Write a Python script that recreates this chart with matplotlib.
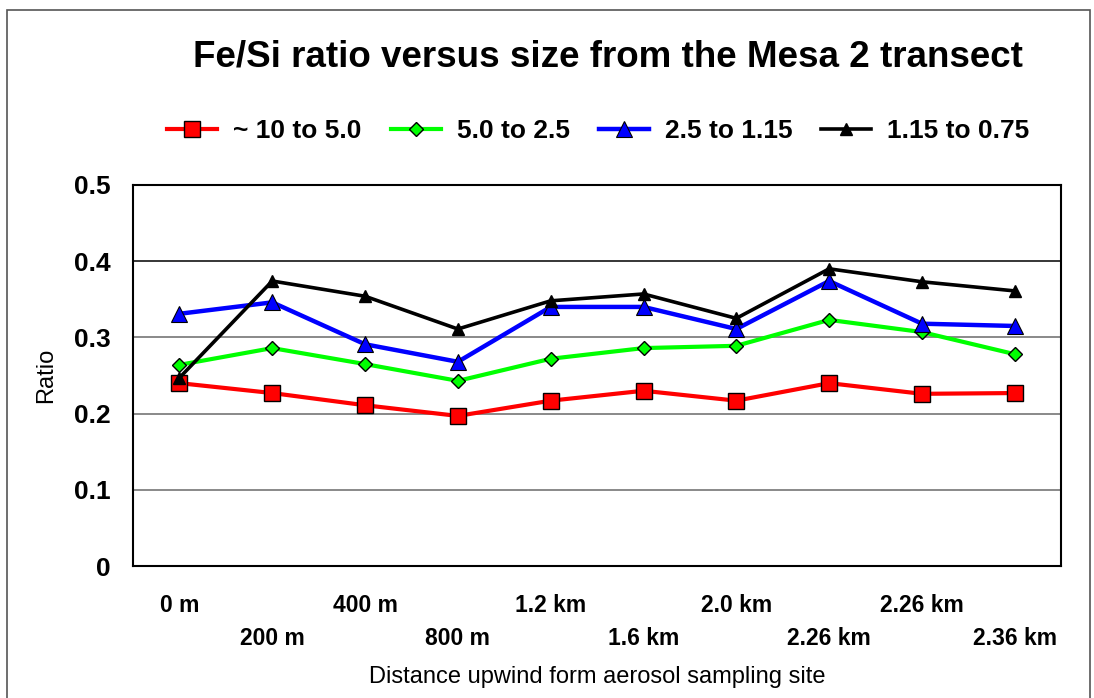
import matplotlib
matplotlib.use("Agg")
import matplotlib.pyplot as plt
from matplotlib.patches import Rectangle

plt.rcParams["font.family"] = ["Liberation Sans", "DejaVu Sans"]

# Data
sites = ["0 m", "200 m", "400 m", "800 m", "1.2 km", "1.6 km",
         "2.0 km", "2.26 km", "2.26 km", "2.36 km"]
size_10_5 = [0.240, 0.227, 0.211, 0.197, 0.217, 0.230, 0.217, 0.240, 0.226, 0.227]
size_5_25 = [0.264, 0.286, 0.265, 0.243, 0.272, 0.286, 0.289, 0.323, 0.307, 0.278]
size_25_115 = [0.331, 0.346, 0.291, 0.268, 0.340, 0.340, 0.311, 0.374, 0.318, 0.315]
size_115_075 = [0.247, 0.374, 0.354, 0.311, 0.348, 0.357, 0.325, 0.390, 0.373, 0.361]

fig = plt.figure(figsize=(10.94, 6.98), dpi=100)
ax = fig.add_axes([0.1216, 0.189, 0.8484, 0.546])

# outer chart border
fig.patches.append(Rectangle((0.0065, -0.05), 0.99, 1.036, transform=fig.transFigure,
                             fill=False, edgecolor="#555555", lw=1.2))

x = range(len(sites))
ax.plot(x, size_10_5, color="red", lw=3, marker="s", ms=11,
        mfc="red", mec="black", mew=1, label="~ 10 to 5.0", zorder=3)
ax.plot(x, size_5_25, color="#00ff00", lw=3, marker="D", ms=7,
        mfc="#00ff00", mec="black", mew=1, label="5.0 to 2.5", zorder=3)
ax.plot(x, size_25_115, color="blue", lw=3.2, marker="^", ms=11,
        mfc="blue", mec="black", mew=0.8, label="2.5 to 1.15", zorder=3)
ax.plot(x, size_115_075, color="black", lw=2.6, marker="^", ms=9,
        mfc="black", mec="black", label="1.15 to 0.75", zorder=4)

ax.set_xlim(-0.5, len(sites) - 0.5)
ax.set_ylim(0, 0.5)
ax.set_yticks([0, 0.1, 0.2, 0.3, 0.4, 0.5])
ax.set_yticklabels(["0", "0.1", "0.2", "0.3", "0.4", "0.5"])
for v in [0.1, 0.2, 0.3]:
    ax.axhline(v, color="#808080", lw=1.3, zorder=1)
ax.axhline(0.4, color="black", lw=1.1, zorder=1)

ax.set_xticks(list(x))
ax.set_xticklabels([s if i % 2 == 0 else "\n" + s for i, s in enumerate(sites)])
ax.tick_params(axis="x", length=0, labelsize=16.5, pad=20)
ax.tick_params(axis="y", length=0, labelsize=19, pad=16)
for lbl in ax.get_xticklabels() + ax.get_yticklabels():
    lbl.set_fontweight("bold")
for lbl in ax.get_xticklabels():
    lbl.set_linespacing(1.55)

for sp in ax.spines.values():
    sp.set_linewidth(1.5)

ax.set_ylabel("Ratio", fontsize=17, labelpad=12)
ax.set_xlabel("Distance upwind form aerosol sampling site", fontsize=17, labelpad=12)

fig.text(0.556, 0.918, "Fe/Si ratio versus size from the Mesa 2 transect",
         ha="center", va="center", fontsize=26.5, fontweight="bold")

fig.legend(loc="center", bbox_to_anchor=(0.547, 0.812), ncol=4, frameon=False,
           prop={"size": 19, "weight": "bold"}, handlelength=1.9,
           columnspacing=1.1, handletextpad=0.6)

fig.savefig("out.png", dpi=100)
